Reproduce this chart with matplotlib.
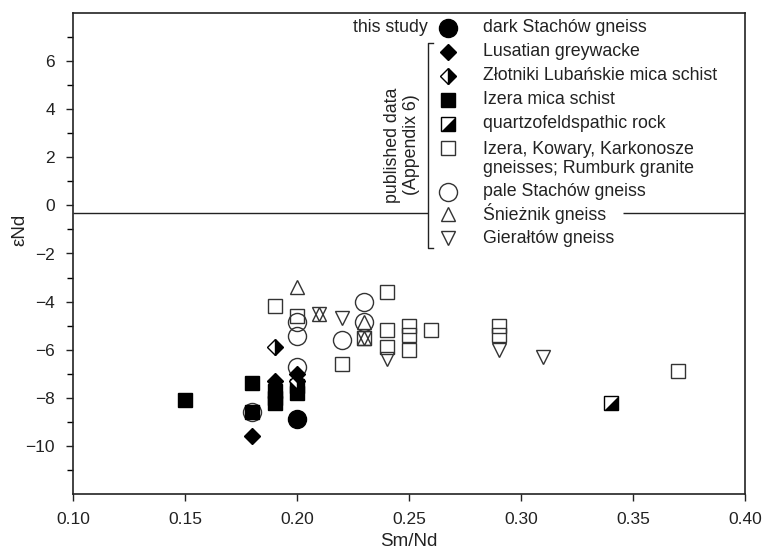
import matplotlib
matplotlib.use("Agg")
import matplotlib.pyplot as plt
from matplotlib.path import Path
from matplotlib.ticker import MultipleLocator, FixedLocator

plt.rcParams["font.family"] = ["Liberation Sans", "DejaVu Sans"]

# Sm/Nd vs epsilon Nd, grouped by rock unit
dark_stachow_x = [0.20]
dark_stachow_y = [-8.9]

lusatian_x = [0.18, 0.19, 0.20]
lusatian_y = [-9.6, -7.3, -7.0]

zlotniki_x = [0.19, 0.20]
zlotniki_y = [-5.9, -7.3]

izera_schist_x = [0.15, 0.18, 0.18, 0.19, 0.19, 0.19, 0.20, 0.20]
izera_schist_y = [-8.1, -7.4, -8.6, -7.7, -8.0, -8.2, -7.5, -7.8]

quartzofeld_x = [0.34]
quartzofeld_y = [-8.2]

gneiss_x = [0.19, 0.20, 0.22, 0.23, 0.24, 0.24, 0.24, 0.25, 0.25, 0.25,
            0.26, 0.29, 0.29, 0.37]
gneiss_y = [-4.2, -4.6, -6.6, -5.5, -3.6, -5.2, -5.9, -5.0, -5.4, -6.0,
            -5.2, -5.0, -5.4, -6.9]

pale_stachow_x = [0.18, 0.20, 0.20, 0.20, 0.22, 0.23, 0.23]
pale_stachow_y = [-8.6, -4.85, -5.45, -6.7, -5.6, -4.0, -4.85]

snieznik_x = [0.20, 0.21, 0.23, 0.23]
snieznik_y = [-3.4, -4.5, -4.85, -5.5]

gieraltow_x = [0.21, 0.22, 0.23, 0.24, 0.29, 0.31]
gieraltow_y = [-4.5, -4.7, -5.5, -6.4, -6.0, -6.3]

legend_labels = [
    "dark Stachów gneiss",
    "Lusatian greywacke",
    "Złotniki Lubańskie mica schist",
    "Izera mica schist",
    "quartzofeldspathic rock",
    "Izera, Kowary, Karkonosze\ngneisses; Rumburk granite",
    "pale Stachów gneiss",
    "Śnieżnik gneiss",
    "Gierałtów gneiss",
]

y_ticks = [-10, -8, -6, -4, -2, 0, 2, 4, 6]
ref_line_y = -0.3

# lower-right half of a square, laid over an open square
half_square = Path([(-1, -1), (1, -1), (1, 1), (-1, -1)],
                   [Path.MOVETO, Path.LINETO, Path.LINETO, Path.CLOSEPOLY])

styles = [
    dict(marker="o", ms=13, mfc="black", mec="black"),
    dict(marker="D", ms=8.5, mfc="black", mec="black"),
    dict(marker="D", ms=8.5, mfc="black", mfcalt="white", fillstyle="right",
         mec="black", mew=1.0),
    dict(marker="s", ms=9.5, mfc="black", mec="black"),
    dict(marker="s", ms=9.5, mfc="white", mec="black", mew=1.0),
    dict(marker="s", ms=9.5, mfc="none", mec="#333333", mew=1.0),
    dict(marker="o", ms=13, mfc="none", mec="#333333", mew=1.0),
    dict(marker="^", ms=9.5, mfc="none", mec="#333333", mew=1.0),
    dict(marker="v", ms=9.5, mfc="none", mec="#333333", mew=1.0),
]
half_style = dict(marker=half_square, ms=9.5, mfc="black", mec="none")

fig = plt.figure(figsize=(7.62, 5.57), dpi=100)
ax = fig.add_axes([73 / 762, 1 - 494 / 557, 672 / 762, 481 / 557])

series = [
    (gneiss_x, gneiss_y, styles[5]),
    (pale_stachow_x, pale_stachow_y, styles[6]),
    (snieznik_x, snieznik_y, styles[7]),
    (gieraltow_x, gieraltow_y, styles[8]),
    (izera_schist_x, izera_schist_y, styles[3]),
    (quartzofeld_x, quartzofeld_y, styles[4]),
    (quartzofeld_x, quartzofeld_y, half_style),
    (zlotniki_x, zlotniki_y, styles[2]),
    (lusatian_x, lusatian_y, styles[1]),
    (dark_stachow_x, dark_stachow_y, styles[0]),
]
for xs, ys, st in series:
    ax.plot(xs, ys, linestyle="none", **st)

ax.set_xlim(0.10, 0.40)
ax.set_ylim(-12, 8)
ax.xaxis.set_major_locator(MultipleLocator(0.05))
ax.yaxis.set_major_locator(FixedLocator(y_ticks))
ax.yaxis.set_minor_locator(FixedLocator([-11, -9, -7, -5, -3, -1, 1, 3, 5, 7]))
ax.xaxis.set_major_formatter(plt.FormatStrFormatter("%.2f"))
ax.tick_params(which="major", direction="out", length=5, width=1,
               labelsize=12.5, colors="#222222", pad=8)
ax.tick_params(which="minor", direction="out", length=4, width=1)
for sp in ax.spines.values():
    sp.set_linewidth(1.2)
    sp.set_color("#222222")

ax.set_xlabel("Sm/Nd", fontsize=13.5, color="#222222", labelpad=4)
ax.set_ylabel("εNd", fontsize=13.5, color="#222222")
ax.yaxis.set_label_coords(-0.066, 0.55)

# horizontal reference line, broken where the key sits
ax.hlines(ref_line_y, 0.10, 0.2585, color="#222222", lw=1)
ax.hlines(ref_line_y, 0.3455, 0.40, color="#222222", lw=1)


def fx(px):
    return px / 762


def fy(py):
    return 1 - py / 557


# key drawn in figure pixels
key_rows = [28, 52, 76, 100, 124, 148, 192, 214, 238]
marker_x = 448
text_x = 483
for row, label, st in zip(key_rows, legend_labels, styles):
    ax.plot([fx(marker_x)], [fy(row)], transform=fig.transFigure,
            clip_on=False, linestyle="none", **st)
    fig.text(fx(text_x), fy(row) if "\n" not in label else fy(row + 11),
             label, fontsize=12.8, color="#222222", va="center", ha="left",
             linespacing=1.1)
ax.plot([fx(marker_x)], [fy(key_rows[4])], transform=fig.transFigure,
        clip_on=False, linestyle="none", **half_style)

fig.text(fx(428), fy(28), "this study", fontsize=12.8, color="#222222",
         ha="right", va="center")

# bracket for the published data
bx = [fx(433), fx(428), fx(428), fx(433)]
by = [fy(43), fy(43), fy(248), fy(248)]
fig.add_artist(plt.Line2D(bx, by, color="#222222", lw=1))
fig.text(fx(402), fy(145), "published data\n(Appendix 6)", fontsize=12.8,
         color="#222222", rotation=90, ha="center", va="center",
         multialignment="center", linespacing=1.15)

fig.savefig("out.png", dpi=100)
